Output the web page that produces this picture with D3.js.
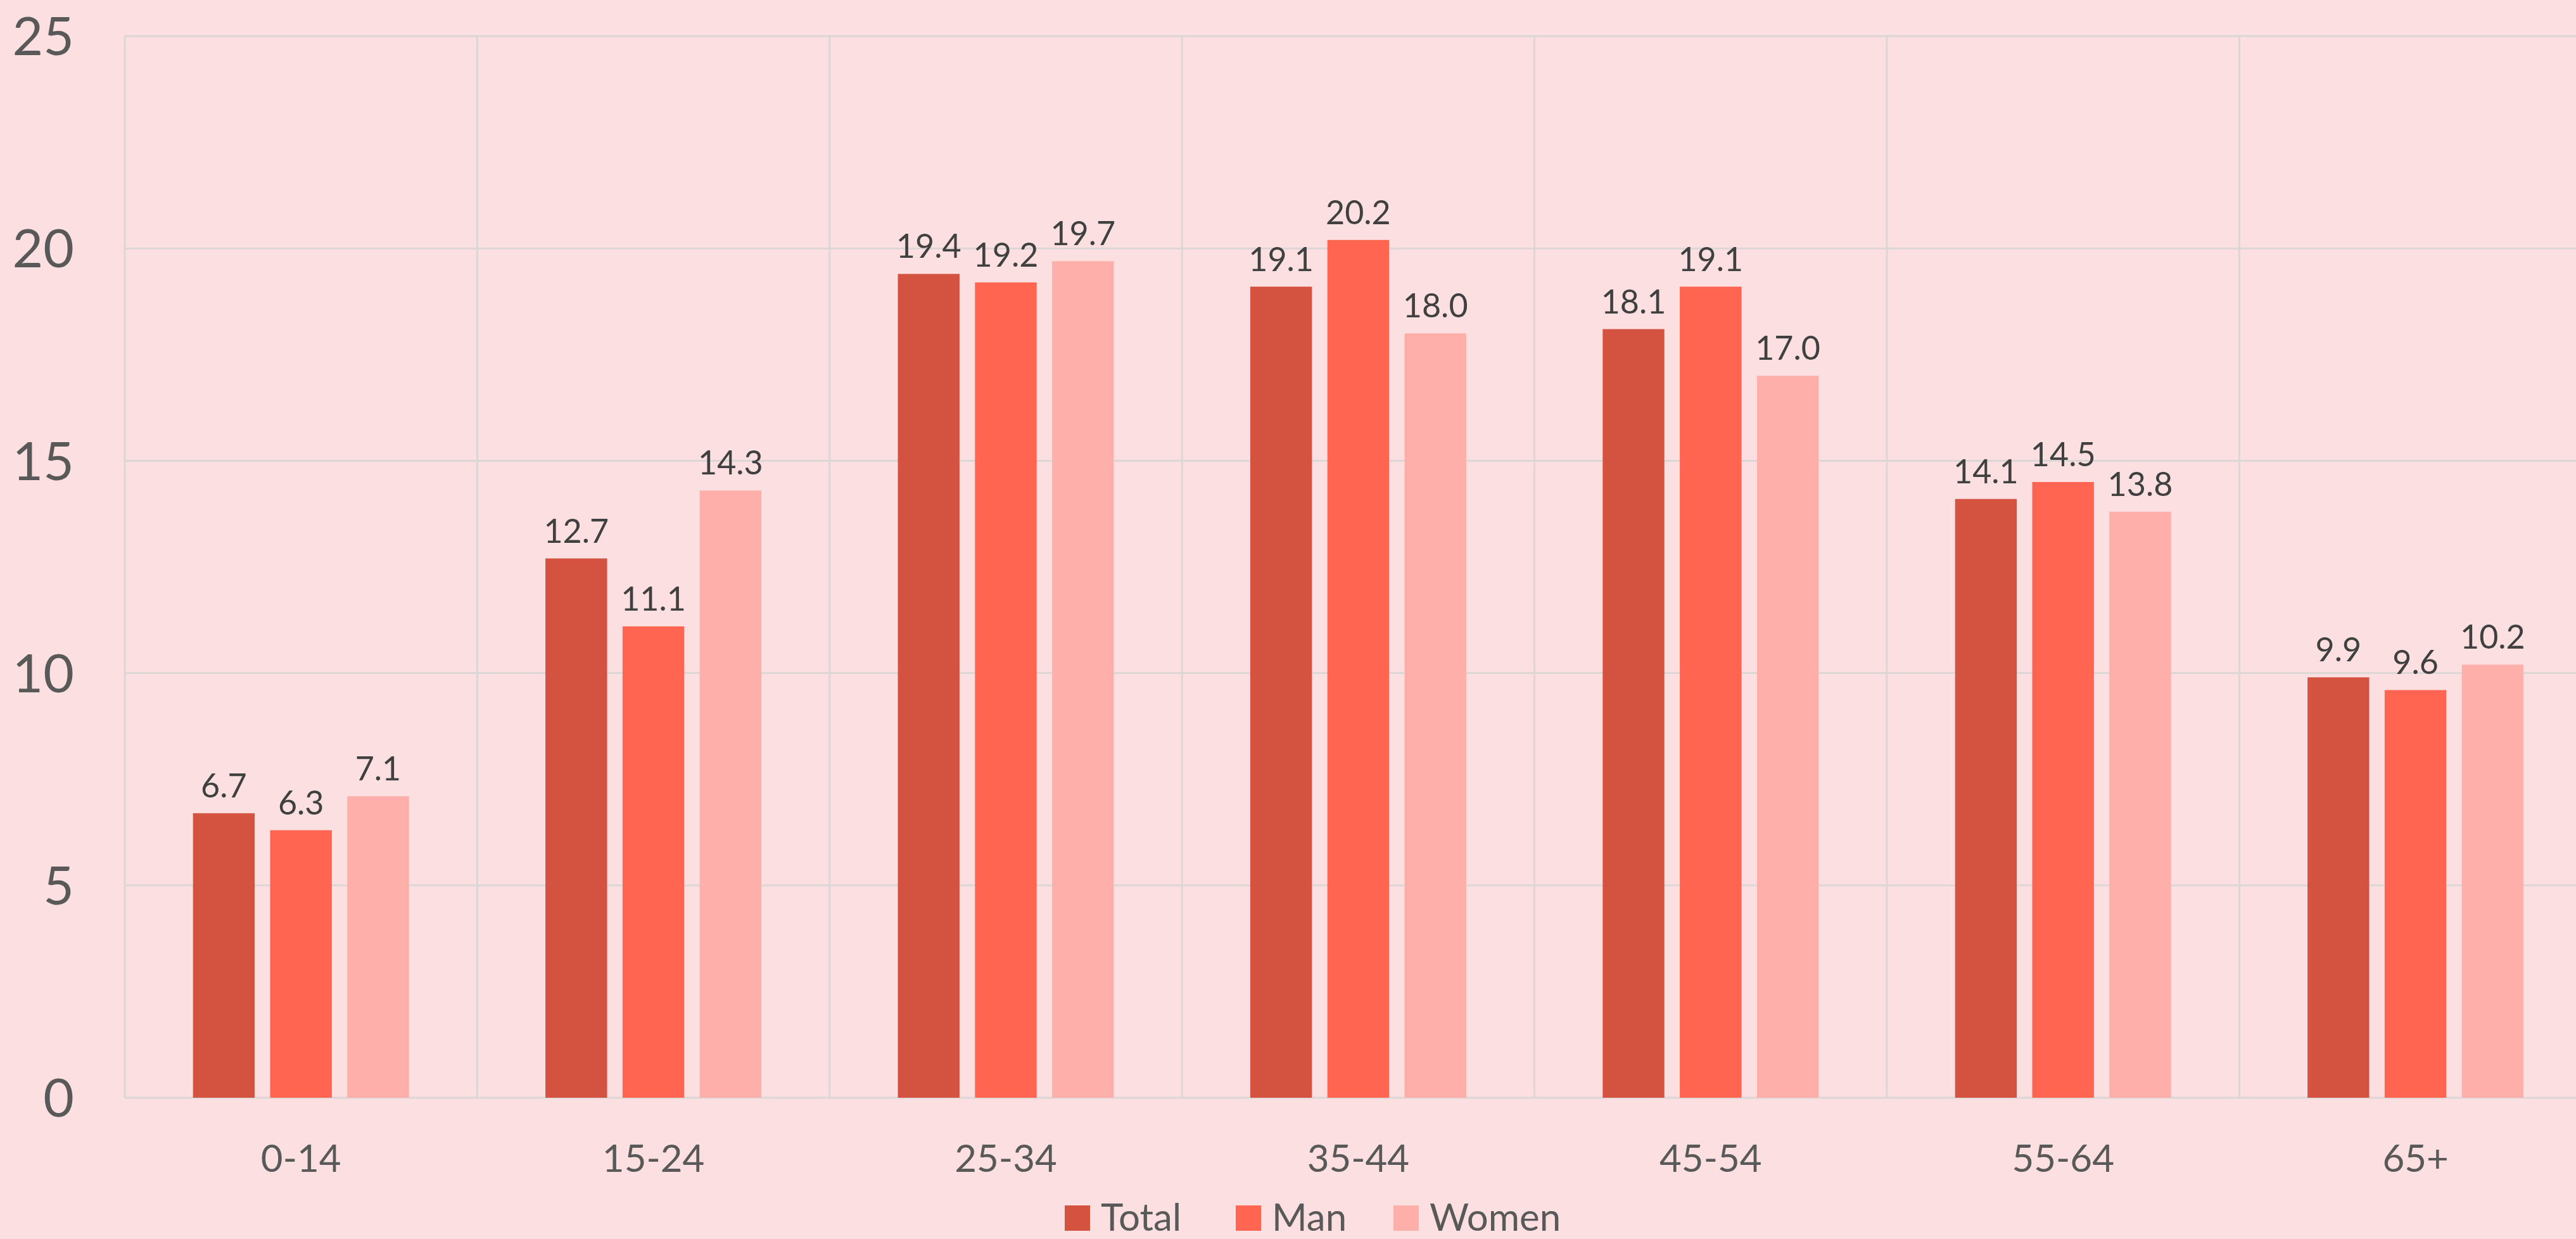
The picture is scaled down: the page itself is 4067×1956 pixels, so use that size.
<!DOCTYPE html>
<html>
<head>
<meta charset="utf-8">
<script src="https://cdn.jsdelivr.net/npm/d3@7"></script>
<style>
  body { margin: 0; background: #fce0e1; }
  svg { display: block; font-family: Lato, "Open Sans", sans-serif; }
</style>
</head>
<body>
<svg id="chart"></svg>
<script>
const ageGroups = ["0-14", "15-24", "25-34", "35-44", "45-54", "55-64", "65+"];
const seriesNames = ["Total", "Man", "Women"];
const totalValues = [6.7, 12.7, 19.4, 19.1, 18.1, 14.1, 9.9];
const manValues = [6.3, 11.1, 19.2, 20.2, 19.1, 14.5, 9.6];
const womenValues = [7.1, 14.3, 19.7, 18.0, 17.0, 13.8, 10.2];
const yTicks = [0, 5, 10, 15, 20, 25];

const colors = ["#d35240", "#ff6550", "#ffafaa"];
const width = 4067;
const height = 1956;

// plot area (the last category runs a bit past the right edge, like the original)
const plotLeft = 197, plotTop = 57, plotBottom = 1733;
const catW = 556.4;
const plotRight = plotLeft + ageGroups.length * catW;

const rows = ageGroups.map((g, i) => ({
  group: g,
  values: [totalValues[i], manValues[i], womenValues[i]]
}));

const svg = d3.select("#chart").attr("width", width).attr("height", height);

svg.append("rect").attr("width", width).attr("height", height).attr("fill", "#fce0e1");

const x0 = d3.scaleBand().domain(ageGroups).range([plotLeft, plotRight]);
const groupInset = 107.7;
const x1 = d3.scaleBand()
  .domain(seriesNames)
  .range([groupInset, catW - groupInset])
  .paddingInner(0.2);
const y = d3.scaleLinear().domain([0, 25]).range([plotBottom, plotTop]);

// grid
const grid = svg.append("g").attr("stroke", "#dcd6d7").attr("stroke-width", 3);
grid.selectAll("line.h")
  .data(yTicks)
  .enter()
  .append("line")
  .attr("x1", plotLeft)
  .attr("x2", plotRight)
  .attr("y1", (d) => y(d))
  .attr("y2", (d) => y(d));
grid.selectAll("line.v")
  .data(ageGroups)
  .enter()
  .append("line")
  .attr("x1", (d) => x0(d))
  .attr("x2", (d) => x0(d))
  .attr("y1", y(25))
  .attr("y2", y(0));

// y labels
svg.append("g")
  .selectAll("text")
  .data(yTicks)
  .enter()
  .append("text")
  .attr("x", 117)
  .attr("y", (d) => y(d))
  .attr("dy", "0.36em")
  .attr("text-anchor", "end")
  .attr("font-size", 84)
  .attr("fill", "#595959")
  .text((d) => d);

// bars
const groups = svg.append("g")
  .selectAll("g")
  .data(rows)
  .enter()
  .append("g")
  .attr("transform", (d) => `translate(${x0(d.group)},0)`);

groups.selectAll("rect")
  .data((d) => d.values.map((v, i) => ({ name: seriesNames[i], value: v, idx: i })))
  .enter()
  .append("rect")
  .attr("x", (d) => x1(d.name))
  .attr("width", x1.bandwidth())
  .attr("y", (d) => y(d.value))
  .attr("height", (d) => y(0) - y(d.value))
  .attr("fill", (d) => colors[d.idx]);

groups.selectAll("text")
  .data((d) => d.values.map((v, i) => ({ name: seriesNames[i], value: v })))
  .enter()
  .append("text")
  .attr("x", (d) => x1(d.name) + x1.bandwidth() / 2)
  .attr("y", (d) => y(d.value) - 25)
  .attr("text-anchor", "middle")
  .attr("font-size", 52)
  .attr("fill", "#404040")
  .text((d) => d.value.toFixed(1));

// x labels
svg.append("g")
  .selectAll("text")
  .data(ageGroups)
  .enter()
  .append("text")
  .attr("x", (d) => x0(d) + catW / 2)
  .attr("y", 1850)
  .attr("text-anchor", "middle")
  .attr("font-size", 60)
  .attr("fill", "#595959")
  .text((d) => d);

// legend
const legendX = [1681, 1951, 2200];
const legend = svg.append("g")
  .selectAll("g")
  .data(seriesNames)
  .enter()
  .append("g")
  .attr("transform", (d, i) => `translate(${legendX[i]},1903)`);
legend.append("rect")
  .attr("width", 40)
  .attr("height", 40)
  .attr("fill", (d, i) => colors[i]);
legend.append("text")
  .attr("x", 57)
  .attr("y", 40)
  .attr("font-size", 60)
  .attr("fill", "#595959")
  .text((d) => d);
</script>
</body>
</html>
